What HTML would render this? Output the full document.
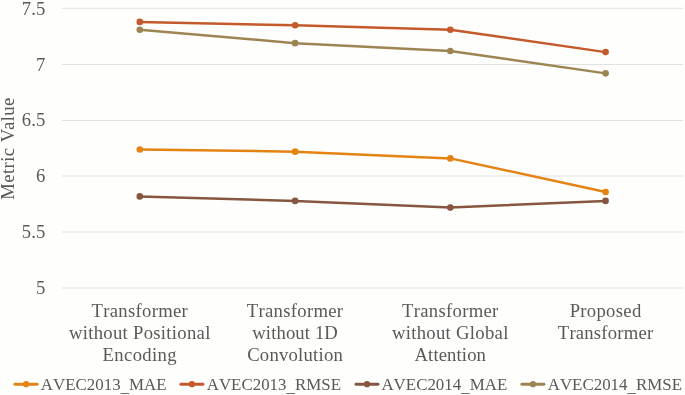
<!DOCTYPE html>
<html lang="en">
<head>
<meta charset="utf-8">
<title>Metric Value chart</title>
<style>
html,body{margin:0;padding:0;background:#fefefc;}
body{width:685px;height:395px;overflow:hidden;}
svg{display:block;}
text{font-family:"Liberation Serif","Times New Roman",serif;fill:#595959;font-kerning:none;}
.ax{font-size:18.67px;letter-spacing:0.3px;}
.lg{font-size:16.9px;}
.grid line{stroke:#e0e0e0;stroke-width:1;}
</style>
</head>
<body>
<svg width="685" height="395" viewBox="0 0 685 395">
<rect x="0" y="0" width="685" height="395" fill="#fefefc"/>
<g class="grid">
<line x1="62.0" y1="8.25" x2="683.0" y2="8.25"/>
<line x1="62.0" y1="64.45" x2="683.0" y2="64.45"/>
<line x1="62.0" y1="120.45" x2="683.0" y2="120.45"/>
<line x1="62.0" y1="176.00" x2="683.0" y2="176.00"/>
<line x1="62.0" y1="232.00" x2="683.0" y2="232.00"/>
<line x1="62.0" y1="288.00" x2="683.0" y2="288.00"/>
</g>
<g class="ax" text-anchor="end">
<text x="45.6" y="14.60" style="letter-spacing:0.15px">7.5</text>
<text x="45.6" y="70.52" style="letter-spacing:0.15px">7</text>
<text x="45.6" y="126.45" style="letter-spacing:0.15px">6.5</text>
<text x="45.6" y="182.37" style="letter-spacing:0.15px">6</text>
<text x="45.6" y="238.30" style="letter-spacing:0.15px">5.5</text>
<text x="45.6" y="294.23" style="letter-spacing:0.15px">5</text>
</g>
<text class="ax" text-anchor="middle" transform="translate(14.4 148.5) rotate(-90)" style="letter-spacing:0.42px" dx="0 0 0 0 0 0 0 0 -1.6">Metric Value</text>
<g class="ax" text-anchor="middle">
<text x="139.8" y="316.8" style="letter-spacing:0.3px">Transformer</text>
<text x="139.8" y="338.7" style="letter-spacing:0.3px">without Positional</text>
<text x="139.8" y="361.2" style="letter-spacing:0.36px">Encoding</text>
<text x="295.1" y="316.8" style="letter-spacing:0.3px">Transformer</text>
<text x="295.1" y="338.7" style="letter-spacing:0.12px">without 1D</text>
<text x="295.1" y="361.2" style="letter-spacing:0.24px">Convolution</text>
<text x="450.3" y="316.8" style="letter-spacing:0.3px">Transformer</text>
<text x="450.3" y="338.7" style="letter-spacing:0.3px">without Global</text>
<text x="450.3" y="361.2" style="letter-spacing:0.12px">Attention</text>
<text x="605.6" y="316.8" style="letter-spacing:0.3px">Proposed</text>
<text x="605.6" y="338.7" style="letter-spacing:0.22px">Transformer</text>
</g>
<g fill="#E48312" stroke="none"><polyline points="139.8,149.43 295.1,151.67 450.3,158.38 605.6,191.93" fill="none" stroke="#E48312" stroke-width="2.5" stroke-linecap="round" stroke-linejoin="round"/>
<circle cx="139.8" cy="149.43" r="3.3"/>
<circle cx="295.1" cy="151.67" r="3.3"/>
<circle cx="450.3" cy="158.38" r="3.3"/>
<circle cx="605.6" cy="191.93" r="3.3"/>
</g>
<g fill="#C45A2C" stroke="none"><polyline points="139.8,21.92 295.1,25.28 450.3,29.75 605.6,52.12" fill="none" stroke="#C45A2C" stroke-width="2.5" stroke-linecap="round" stroke-linejoin="round"/>
<circle cx="139.8" cy="21.92" r="3.3"/>
<circle cx="295.1" cy="25.28" r="3.3"/>
<circle cx="450.3" cy="29.75" r="3.3"/>
<circle cx="605.6" cy="52.12" r="3.3"/>
</g>
<g fill="#865640" stroke="none"><polyline points="139.8,196.41 295.1,200.88 450.3,207.59 605.6,200.88" fill="none" stroke="#865640" stroke-width="2.5" stroke-linecap="round" stroke-linejoin="round"/>
<circle cx="139.8" cy="196.41" r="3.3"/>
<circle cx="295.1" cy="200.88" r="3.3"/>
<circle cx="450.3" cy="207.59" r="3.3"/>
<circle cx="605.6" cy="200.88" r="3.3"/>
</g>
<g fill="#9D8553" stroke="none"><polyline points="139.8,29.75 295.1,43.17 450.3,51.00 605.6,73.37" fill="none" stroke="#9D8553" stroke-width="2.5" stroke-linecap="round" stroke-linejoin="round"/>
<circle cx="139.8" cy="29.75" r="3.3"/>
<circle cx="295.1" cy="43.17" r="3.3"/>
<circle cx="450.3" cy="51.00" r="3.3"/>
<circle cx="605.6" cy="73.37" r="3.3"/>
</g>
<line x1="14.9" y1="384.2" x2="37.2" y2="384.2" stroke="#E48312" stroke-width="2.9" stroke-linecap="round"/><circle cx="26.1" cy="384.2" r="3.1" fill="#E48312"/>
<text class="lg" x="40.8" y="389.5" dy="0 0 0 0 0 0 0 0 2.2 -2.2">AVEC2013_MAE</text>
<line x1="180.9" y1="384.2" x2="203.0" y2="384.2" stroke="#C45A2C" stroke-width="2.9" stroke-linecap="round"/><circle cx="191.9" cy="384.2" r="3.1" fill="#C45A2C"/>
<text class="lg" x="206.7" y="389.5" dy="0 0 0 0 0 0 0 0 2.2 -2.2">AVEC2013_RMSE</text>
<line x1="356.0" y1="384.2" x2="378.0" y2="384.2" stroke="#865640" stroke-width="2.9" stroke-linecap="round"/><circle cx="367.0" cy="384.2" r="3.1" fill="#865640"/>
<text class="lg" x="381.4" y="389.5" dy="0 0 0 0 0 0 0 0 2.2 -2.2">AVEC2014_MAE</text>
<line x1="521.9" y1="384.2" x2="544.0" y2="384.2" stroke="#9D8553" stroke-width="2.9" stroke-linecap="round"/><circle cx="533.0" cy="384.2" r="3.1" fill="#9D8553"/>
<text class="lg" x="547.7" y="389.5" dy="0 0 0 0 0 0 0 0 2.2 -2.2">AVEC2014_RMSE</text>
</svg>
</body>
</html>
